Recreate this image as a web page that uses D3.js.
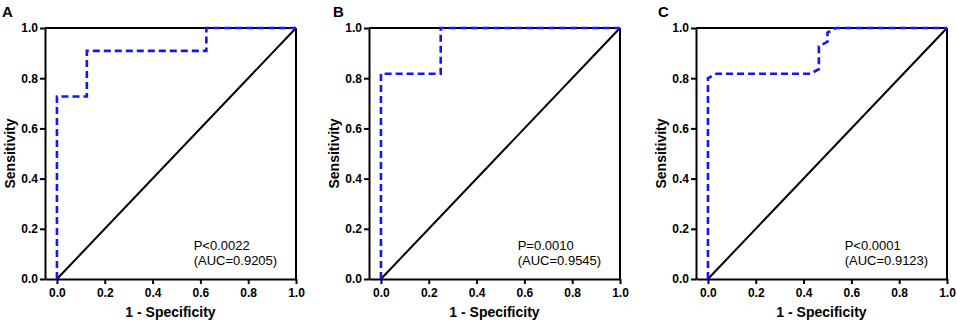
<!DOCTYPE html>
<html>
<head>
<meta charset="utf-8">
<script src="https://cdn.jsdelivr.net/npm/d3@7"></script>
<style>
  html, body { margin: 0; padding: 0; background: #fff; }
  svg { display: block; }
  text { font-family: "Liberation Sans", Arial, Helvetica, sans-serif; }
</style>
</head>
<body>
<svg id="chart" width="957" height="324"></svg>
<script>
// ---- data ----
const panelLetters = ["A", "B", "C"];
const xTickValues = [0, 0.2, 0.4, 0.6, 0.8, 1.0];
const yTickValues = [0, 0.2, 0.4, 0.6, 0.8, 1.0];
const xTitle = "1 - Specificity";
const yTitle = "Sensitivity";

const rocA_x = [0, 0, 0.125, 0.125, 0.625, 0.625, 1];
const rocA_y = [0, 0.727, 0.727, 0.909, 0.909, 1, 1];

const rocB_x = [0, 0, 0.25, 0.25, 1];
const rocB_y = [0, 0.818, 0.818, 1, 1];

const rocC_x = [0, 0, 0.036, 0.429, 0.464, 0.464, 0.5, 0.5, 0.536, 1];
const rocC_y = [0, 0.80, 0.818, 0.818, 0.836, 0.927, 0.945, 0.982, 1, 1];

const pLabels = ["P<0.0022", "P=0.0010", "P<0.0001"];
const aucLabels = ["(AUC=0.9205)", "(AUC=0.9545)", "(AUC=0.9123)"];

const rocXs = [rocA_x, rocB_x, rocC_x];
const rocYs = [rocA_y, rocB_y, rocC_y];

// ---- layout ----
const svg = d3.select("#chart");
const frameLefts = [45, 369, 696];
const plotW = 251, plotTop = 28, plotBottom = 279;
const letterX = [2, 333, 658];

panelLetters.forEach((letter, i) => {
  const left = frameLefts[i];
  const x = d3.scaleLinear().domain([-0.05, 1]).range([left, left + plotW]);
  const y = d3.scaleLinear().domain([0, 1]).range([plotBottom, plotTop]);
  const g = svg.append("g");

  // panel letter
  g.append("text").attr("x", letterX[i]).attr("y", 17)
    .attr("font-size", 15).attr("font-weight", "bold").text(letter);

  // frame top & right
  g.append("line").attr("x1", x(-0.05)).attr("x2", x(1)).attr("y1", y(1)).attr("y2", y(1))
    .attr("stroke", "#000").attr("stroke-width", 2);
  g.append("line").attr("x1", x(1)).attr("x2", x(1)).attr("y1", y(0)).attr("y2", y(1))
    .attr("stroke", "#000").attr("stroke-width", 2);

  // axes
  const xAxis = d3.axisBottom(x).tickValues(xTickValues).tickFormat(d3.format(".1f"))
    .tickSize(5).tickSizeOuter(0).tickPadding(4);
  const yAxis = d3.axisLeft(y).tickValues(yTickValues).tickFormat(d3.format(".1f"))
    .tickSize(5).tickSizeOuter(0).tickPadding(2);

  const gx = g.append("g").attr("transform", `translate(0,${plotBottom})`).call(xAxis);
  const gy = g.append("g").attr("transform", `translate(${left},0)`).call(yAxis);
  [gx, gy].forEach(ax => {
    ax.select(".domain").attr("stroke", "#000").attr("stroke-width", 2);
    ax.selectAll(".tick line").attr("stroke", "#000").attr("stroke-width", 2);
    ax.selectAll(".tick text").attr("font-size", 12).attr("font-weight", "bold")
      .attr("fill", "#000")
      .style("font-family", '"Liberation Sans", Arial, Helvetica, sans-serif');
  });

  // diagonal reference
  g.append("line").attr("x1", x(0)).attr("y1", y(0)).attr("x2", x(1)).attr("y2", y(1))
    .attr("stroke", "#000").attr("stroke-width", 2);

  // ROC curve
  const pts = rocXs[i].map((v, k) => [v, rocYs[i][k]]);
  const line = d3.line().x(d => x(d[0])).y(d => y(d[1]));
  g.append("path").datum(pts).attr("d", line)
    .attr("fill", "none").attr("stroke", "#1414ff").attr("stroke-width", 2.6)
    .attr("stroke-dasharray", "7,4");

  // axis titles
  g.append("text").attr("x", (x(-0.05) + x(1)) / 2).attr("y", 317)
    .attr("text-anchor", "middle").attr("font-size", 14).attr("font-weight", "bold")
    .text(xTitle);
  g.append("text")
    .attr("transform", `translate(${left - 30},${(plotTop + plotBottom) / 2}) rotate(-90)`)
    .attr("text-anchor", "middle").attr("font-size", 14).attr("font-weight", "bold")
    .text(yTitle);

  // annotation
  g.append("text").attr("x", x(0.572)).attr("y", 250).attr("font-size", 13).text(pLabels[i]);
  g.append("text").attr("x", x(0.572)).attr("y", 264.5).attr("font-size", 13).text(aucLabels[i]);
});
</script>
</body>
</html>
